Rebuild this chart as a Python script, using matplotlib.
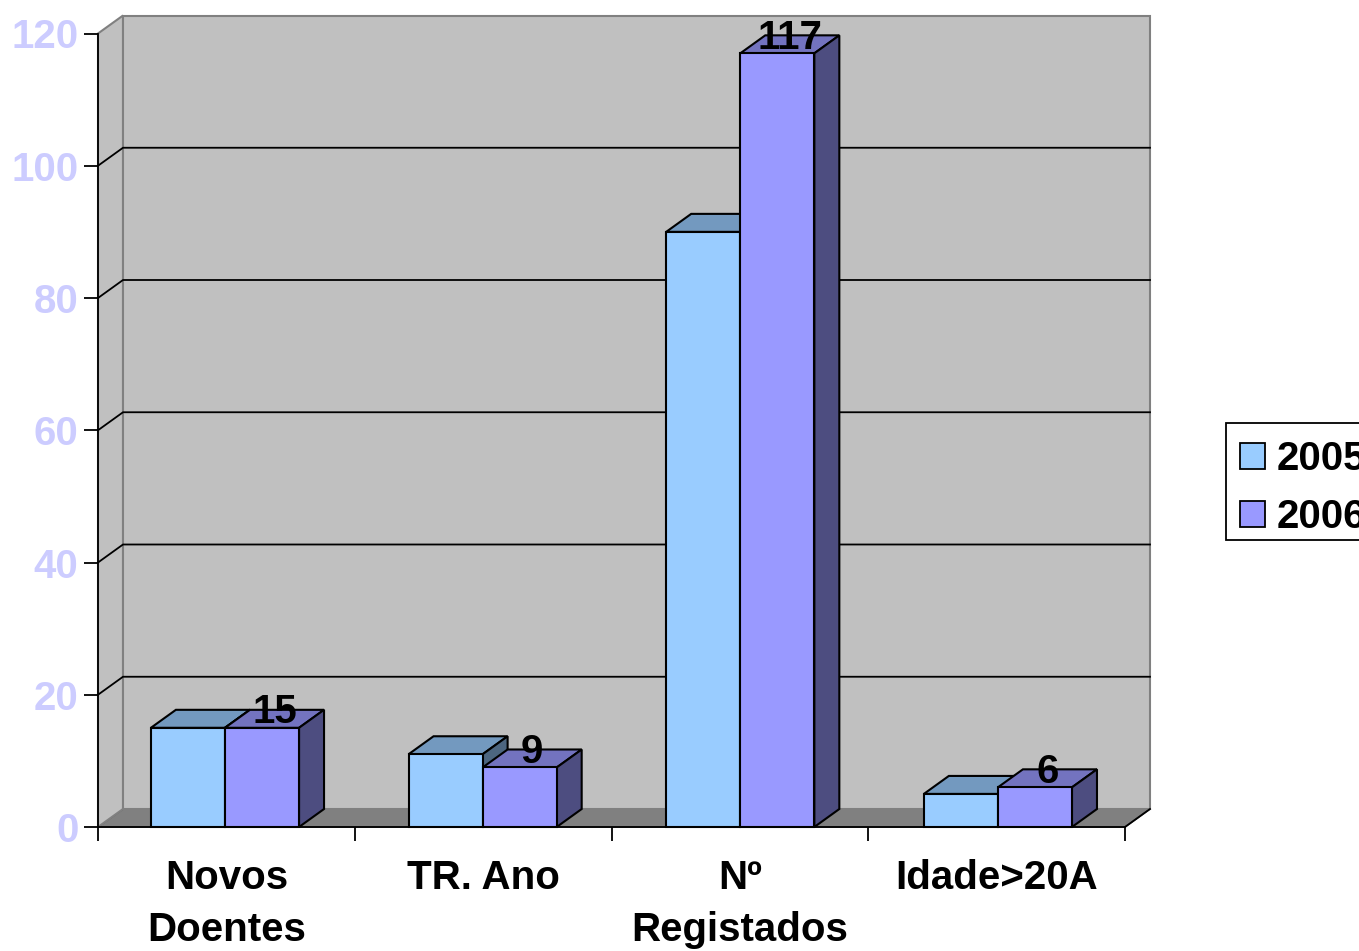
import numpy as np
import matplotlib
matplotlib.use('Agg')
import matplotlib.pyplot as plt
from matplotlib.patches import Polygon, Patch, Rectangle

plt.rcParams['font.family'] = ['Liberation Sans', 'DejaVu Sans']
plt.rcParams['font.weight'] = 'bold'

# Data
categories = ['Novos\nDoentes', 'TR. Ano', 'Nº\nRegistados', 'Idade>20A']
years = ['2005', '2006']
values_2005 = [15, 11, 90, 5]
values_2006 = [15, 9, 117, 6]
y_ticks = [0, 20, 40, 60, 80, 100, 120]

# Colours (front, top, side)
colors_2005 = ('#99CCFF', '#7399BF', '#4D6680')
colors_2006 = ('#9999FF', '#7373BF', '#4D4D80')
wall = '#C0C0C0'
floor = '#808080'
tick_color = '#CCCCFF'

W, H = 1359, 951
fig = plt.figure(figsize=(W / 100, H / 100), dpi=100)
ax = fig.add_axes([98 / W, 1 - 827 / H, 1027 / W, 793.5 / H])
ax.set_xlim(0, 4)
ax.set_ylim(0, 120)
ax.patch.set_visible(False)

# Fake 3D depth, in data units
dx = 25 / (1027 / 4)
dy = 18 / (793.5 / 120)
bar_w = 0.2885
start = 0.206
group_step = 1.0035


def poly(pts, fc, ec='black', lw=1.5, z=2):
    ax.add_patch(Polygon(pts, closed=True, facecolor=fc, edgecolor=ec,
                         linewidth=lw, zorder=z, clip_on=False, joinstyle='miter'))


# Walls and floor
poly([(0, 0), (dx, dy), (4 + dx, dy), (4, 0)], floor, ec='#555555', lw=1.2, z=1)
poly([(0, 0), (dx, dy), (dx, 120 + dy), (0, 120)], wall, ec=floor, lw=1.5, z=1)
poly([(dx, dy), (4 + dx, dy), (4 + dx, 120 + dy), (dx, 120 + dy)], wall, ec=floor, lw=1.5, z=1)

# Gridlines on side wall and back wall
for t in y_ticks[1:-1]:
    ax.plot([0, dx, 4 + dx], [t, t + dy, t + dy], color='black', lw=1.3, zorder=1.5, clip_on=False)
# floor front-right corner
ax.plot([4, 4 + dx], [0, dy], color='black', lw=1.3, zorder=1.5, clip_on=False)


def bar3d(x, v, cols):
    poly([(x, v), (x + dx, v + dy), (x + bar_w + dx, v + dy), (x + bar_w, v)], cols[1])
    poly([(x + bar_w, 0), (x + bar_w + dx, dy), (x + bar_w + dx, v + dy), (x + bar_w, v)], cols[2])
    poly([(x, 0), (x + bar_w, 0), (x + bar_w, v), (x, v)], cols[0])


for i in range(len(categories)):
    x0 = i * group_step + start
    bar3d(x0, values_2005[i], colors_2005)
    bar3d(x0 + bar_w, values_2006[i], colors_2006)
    # only the 2006 series has value labels
    ax.annotate(str(values_2006[i]), (x0 + bar_w + (bar_w + dx) / 2, values_2006[i] + dy),
                xytext=(0, 1.2), textcoords='offset points',
                fontsize=29, fontweight='bold', ha='center', va='center_baseline',
                color='black', zorder=5, annotation_clip=False)

# Axes
for s in ['top', 'right']:
    ax.spines[s].set_visible(False)
for s in ['left', 'bottom']:
    ax.spines[s].set_color('black')
    ax.spines[s].set_linewidth(1.3)
    ax.spines[s].set_zorder(1.8)

ax.set_yticks(y_ticks)
ax.tick_params(axis='y', length=10, width=1.3, pad=4, labelsize=29, labelcolor=tick_color)
ax.set_xticks(np.arange(5))
ax.set_xticklabels([])
ax.tick_params(axis='x', which='major', length=10, width=1.3)
ax.set_xticks(np.arange(4) + 0.5, minor=True)
ax.set_xticklabels(categories, minor=True, fontsize=29, fontweight='bold', linespacing=1.47)
ax.tick_params(axis='x', which='minor', length=0, pad=23)

# Legend runs off the right edge of the picture, frame drawn separately
fig.add_artist(Rectangle((1226 / W, 1 - 540 / H), 200 / W, 117 / H, transform=fig.transFigure,
                         facecolor='white', edgecolor='black', linewidth=1.3))
handles = [Patch(facecolor=colors_2005[0], edgecolor='black', linewidth=1.3),
           Patch(facecolor=colors_2006[0], edgecolor='black', linewidth=1.3)]
fig.legend(handles, years, loc='upper left', bbox_to_anchor=(1225.5 / W, 1 - 426 / H),
           borderaxespad=0, frameon=False,
           prop={'size': 29, 'weight': 'bold'}, handlelength=0.62, handleheight=0.62,
           handletextpad=0.3, labelspacing=0.5, borderpad=0.35)

fig.savefig('out.png', dpi=100)
